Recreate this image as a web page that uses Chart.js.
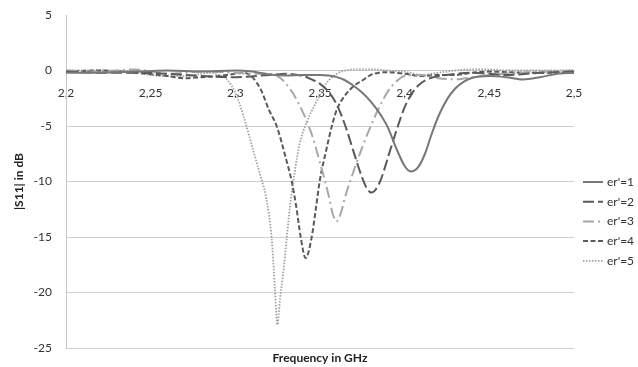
<!DOCTYPE html>
<html><head><meta charset="utf-8">
<script src="https://cdn.jsdelivr.net/npm/chart.js@4/dist/chart.umd.min.js"></script>
<style>html,body{margin:0;padding:0;background:#fff;}</style>
</head><body>
<canvas id="c" width="638" height="367"></canvas>
<script>
// ---- data ----
const seriesLabels = ["er'=1", "er'=2", "er'=3", "er'=4", "er'=5"];
const xTicks = [2.2, 2.25, 2.3, 2.35, 2.4, 2.45, 2.5];
const yTicks = [5, 0, -5, -10, -15, -20, -25];

const f1 = [2.20,2.22,2.24,2.26,2.28,2.30,2.31,2.32,2.33,2.34,2.35,2.355,2.36,2.365,2.37,2.375,2.38,2.385,2.39,2.395,2.40,2.4036,2.408,2.412,2.416,2.42,2.425,2.43,2.435,2.44,2.45,2.46,2.47,2.48,2.49,2.50];
const s1 = [-0.2,-0.2,-0.1,0.0,-0.1,0.0,-0.1,-0.35,-0.45,-0.4,-0.4,-0.45,-0.6,-0.9,-1.4,-2.0,-2.8,-3.8,-5.1,-7.0,-8.6,-9.1,-8.7,-7.5,-5.7,-4.1,-2.6,-1.6,-1.0,-0.65,-0.5,-0.6,-0.8,-0.6,-0.3,-0.2];

const f2 = [2.20,2.22,2.24,2.26,2.28,2.30,2.32,2.33,2.34,2.345,2.35,2.355,2.36,2.365,2.37,2.375,2.378,2.3805,2.383,2.386,2.391,2.396,2.40,2.405,2.41,2.415,2.42,2.43,2.44,2.45,2.46,2.48,2.50];
const s2 = [-0.1,-0.2,-0.2,-0.3,-0.5,-0.6,-0.4,-0.3,-0.5,-0.8,-1.2,-1.9,-3.1,-5.0,-7.4,-9.7,-10.7,-11.0,-10.7,-9.8,-7.4,-5.0,-3.3,-1.9,-1.1,-0.7,-0.5,-0.3,-0.2,-0.3,-0.4,-0.2,-0.1];

const f3 = [2.20,2.22,2.24,2.26,2.28,2.30,2.31,2.32,2.325,2.33,2.335,2.34,2.345,2.35,2.355,2.3575,2.3598,2.3622,2.365,2.37,2.375,2.38,2.385,2.39,2.395,2.40,2.41,2.42,2.43,2.44,2.45,2.47,2.50];
const s3 = [0.0,-0.1,0.1,-0.3,-0.1,-0.2,-0.3,-0.3,-0.5,-1.2,-2.3,-3.8,-5.7,-8.3,-11.2,-12.9,-13.6,-12.9,-11.3,-9.0,-6.9,-5.0,-3.3,-1.9,-1.0,-0.5,-0.4,-0.7,-0.8,-0.6,-0.4,-0.2,0.0];

const f4 = [2.20,2.22,2.24,2.26,2.27,2.28,2.29,2.30,2.305,2.31,2.315,2.32,2.3244,2.33,2.3333,2.336,2.3386,2.3415,2.345,2.3475,2.35,2.3535,2.357,2.36,2.365,2.37,2.375,2.38,2.385,2.39,2.40,2.41,2.42,2.43,2.44,2.45,2.47,2.50];
const s4 = [-0.1,0.0,-0.2,-0.5,-0.7,-0.6,-0.5,-0.3,-0.2,-0.6,-1.7,-3.6,-5.0,-8.0,-10.0,-12.3,-15.0,-16.9,-15.1,-12.5,-9.8,-7.3,-5.0,-3.5,-2.2,-1.4,-0.9,-0.4,-0.2,-0.15,-0.3,-0.5,-0.4,-0.4,-0.2,-0.1,-0.2,-0.2];

const f5 = [2.20,2.22,2.24,2.25,2.26,2.27,2.28,2.285,2.29,2.295,2.30,2.305,2.31,2.315,2.318,2.3215,2.3234,2.3248,2.3264,2.3283,2.3303,2.3323,2.335,2.338,2.342,2.348,2.354,2.36,2.365,2.37,2.38,2.39,2.40,2.41,2.42,2.43,2.44,2.45,2.46,2.48,2.50];
const s5 = [0.0,0.0,-0.1,-0.4,-0.5,-0.5,-0.3,-0.2,-0.4,-0.8,-2.0,-4.2,-6.9,-9.6,-11.3,-15.2,-19.7,-22.9,-20.6,-18.2,-15.2,-12.2,-9.2,-6.6,-4.7,-2.8,-1.1,-0.3,0.0,0.1,0.1,0.0,-0.1,-0.4,-0.2,0.0,0.1,0.1,0.0,0.0,0.0];

// ---- styling ----
const styles = [
  {color:'#777777', dash:[], width:2},
  {color:'#5a5a5a', dash:[11,4], width:2},
  {color:'#a8a8a8', dash:[11,4,2,4], width:2},
  {color:'#5a5a5a', dash:[5,2.5], width:2},
  {color:'#a0a0a0', dash:[1.5,1.5], width:1.8}
];
const freqs = [f1,f2,f3,f4,f5];
const vals = [s1,s2,s3,s4,s5];

const datasets = seriesLabels.map((lab,i)=>({
  label: lab,
  data: freqs[i].map((f,j)=>({x:f, y:vals[i][j]})),
  borderColor: styles[i].color,
  borderDash: styles[i].dash,
  borderWidth: styles[i].width,
  pointRadius: 0,
  fill: false,
  cubicInterpolationMode: 'monotone'
}));

const FONT = "Lato, 'Open Sans', sans-serif";
Chart.defaults.font.family = FONT;
Chart.defaults.color = '#333';
const CLEAR = 'rgba(0,0,0,0)';

const legendPlugin = {
  id: 'sideLegend',
  afterDraw(chart){
    const ctx = chart.ctx;
    const x0 = chart.chartArea.right + 9;
    const y0 = 182, dy = 19.7;
    chart.data.datasets.forEach((ds,i)=>{
      const y = y0 + i*dy;
      ctx.save();
      ctx.strokeStyle = ds.borderColor;
      ctx.lineWidth = ds.borderWidth;
      ctx.setLineDash(ds.borderDash || []);
      ctx.beginPath(); ctx.moveTo(x0, y); ctx.lineTo(x0+20, y); ctx.stroke();
      ctx.setLineDash([]);
      ctx.fillStyle = '#333';
      ctx.font = '12px ' + FONT;
      ctx.textBaseline = 'middle';
      ctx.fillText(ds.label, x0+24, y);
      ctx.restore();
    });
  }
};

new Chart(document.getElementById('c'), {
  type: 'line',
  data: { datasets },
  options: {
    responsive: false,
    animation: false,
    layout: { padding: { top: 15, right: 64, left: 0, bottom: 0 } },
    plugins: { legend: { display: false }, tooltip: { enabled: false } },
    scales: {
      x: {
        type: 'linear', min: 2.2, max: 2.5,
        position: { y: 0 },
        afterBuildTicks: s => { s.ticks = xTicks.map(v=>({value:v})); },
        ticks: { font: { size: 12 }, color: '#333', padding: 3, maxRotation: 0,
          callback: v => String(v).replace('.', ',') },
        grid: { display: true, drawOnChartArea: false, drawTicks: true, tickLength: 12, color: CLEAR, tickColor: CLEAR },
        border: { display: true, color: '#c8c8c8', width: 1 }
      },
      xTitle: {
        type: 'linear', position: 'bottom', min: 0, max: 1,
        ticks: { display: false },
        grid: { display: false, drawTicks: false },
        border: { display: false },
        title: { display: true, text: 'Frequency in GHz', font: { size: 12, weight: 'bold' }, color: '#222', padding: { top: 2.6, bottom: 2 } }
      },
      y: {
        type: 'linear', min: -25, max: 5,
        afterBuildTicks: s => { s.ticks = yTicks.map(v=>({value:v})); },
        afterFit: s => { s.width = 66; },
        ticks: { font: { size: 12 }, color: '#333', padding: 2 },
        grid: { drawTicks: true, tickLength: 12, tickColor: CLEAR,
          color: c => (c.tick && c.tick.value === 5) ? CLEAR : '#d0d0d0' },
        border: { display: true, color: '#c8c8c8' },
        title: { display: true, text: '|S11| in dB', font: { size: 12, weight: 'bold' }, color: '#222', padding: { top: 12, bottom: 0 } }
      }
    }
  },
  plugins: [legendPlugin]
});
</script>
</body></html>
